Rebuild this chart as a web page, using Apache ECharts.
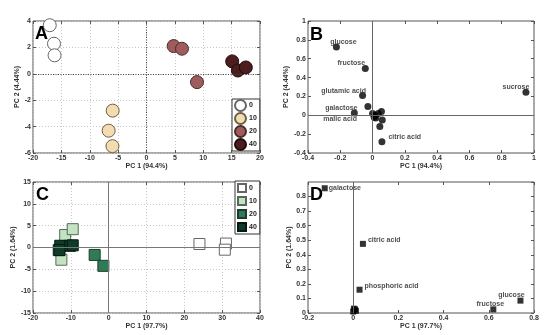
<!DOCTYPE html>
<html><head><meta charset="utf-8">
<script src="https://cdn.jsdelivr.net/npm/echarts@6/dist/echarts.min.js"></script>
<style>html,body{margin:0;padding:0;background:#fff}#c{width:550px;height:335px}</style>
</head><body><div id="c"></div>
<script>
// ---- data ----
const groups = ['0', '10', '20', '40'];
// Panel A: PCA scores (PC1 94.4%, PC2 4.44%)
const A_0  = [[-17.05, 3.68], [-16.3, 2.28], [-16.2, 1.40]];
const A_10 = [[-5.96, -2.79], [-6.67, -4.31], [-6.0, -5.48]];
const A_20 = [[4.78, 2.10], [6.25, 1.90], [8.9, -0.63]];
const A_40 = [[15.1, 0.94], [16.1, 0.25], [17.5, 0.48]];
// Panel B: loadings
const B_names  = ['glucose', 'fructose', 'glutamic acid', '', 'galactose', 'malic acid', '', '', '', '', '', '', '', 'citric acid', 'sucrose'];
const B_points = [[-0.224, 0.723], [-0.045, 0.496], [-0.062, 0.209], [-0.029, 0.092], [-0.113, 0.025],
  [0.0, 0.02], [0.01, -0.02], [0.02, -0.03], [0.035, 0.02], [0.055, 0.04], [0.06, -0.05], [0.045, -0.12], [0.015, 0.0],
  [0.058, -0.28], [0.95, 0.245]];
// Panel C: PCA scores (PC1 97.7%, PC2 1.64%)
const C_0  = [[24.0, 0.8], [31.0, 0.9], [30.7, -0.5]];
const C_10 = [[-11.5, 2.85], [-9.5, 4.2], [-12.5, -2.8]];
const C_20 = [[-3.7, -1.7], [-1.4, -4.2], [-13.2, -0.6]];
const C_40 = [[-12.8, 0.4], [-10.2, 0.4], [-9.5, 0.5], [-13.0, -0.6]];
// Panel D: loadings
const D_names  = ['galactose', 'citric acid', 'phosphoric acid', 'fructose', 'glucose', '', '', '', ''];
const D_points = [[-0.126, 0.857], [0.043, 0.475], [0.028, 0.16], [0.62, 0.025], [0.74, 0.085],
  [0.0, 0.01], [0.008, 0.025], [0.012, 0.015], [0.003, 0.03]];
// tick settings
const axA = {x: [-20, 20, 5], y: [-6, 4, 2]};
const axB = {x: [-0.4, 1, 0.2], y: [-0.4, 1, 0.2]};
const axC = {x: [-20, 40, 10], y: [-15, 15, 5]};
const axD = {x: [-0.2, 0.8, 0.2], y: [0, 0.9, 0.1]};
const names = {A: ['PC 1 (94.4%)', 'PC 2 (4.44%)'], C: ['PC 1 (97.7%)', 'PC 2 (1.64%)']};

// ---- styles ----
const FONT = 'Liberation Sans, Arial, sans-serif';
const colA = [['#ffffff', '#666'], ['#f3dcb1', '#6e5f45'], ['#a05c5c', '#4d2b2b'], ['#4b1d1e', '#220a0a']];
const colC = [['#ffffff', '#666'], ['#c3e3c3', '#566b56'], ['#2f7b58', '#1d3d2c'], ['#0f3b28', '#041a10']];
const labB = {
  'glucose': {position: 'top', distance: 0, offset: [7, 2]},
  'fructose': {position: 'top', distance: 0, offset: [-14, 2]},
  'glutamic acid': {position: 'top', distance: 0, offset: [-19, 2]},
  'galactose': {position: 'top', distance: 0, offset: [-13, 2]},
  'malic acid': {position: 'left', distance: 12, offset: [0, 6]},
  'citric acid': {position: 'right', distance: 3, offset: [0, -5]},
  'sucrose': {position: 'top', distance: 0, offset: [-10, 2]}
};
const labD = {
  'galactose': {position: 'right', distance: 1, offset: [0, 0]},
  'citric acid': {position: 'right', distance: 2, offset: [0, -4]},
  'phosphoric acid': {position: 'right', distance: 2, offset: [0, -4]},
  'fructose': {position: 'top', distance: 0, offset: [-3, 1]},
  'glucose': {position: 'top', distance: 0, offset: [-9, 1]}
};

const grids = [
  {left: 33, top: 21, width: 227, height: 132},
  {left: 308, top: 21, width: 226, height: 132},
  {left: 33, top: 182, width: 227, height: 131},
  {left: 308, top: 182, width: 226, height: 131}
].map(g => Object.assign(g, {show: true, borderColor: '#555', borderWidth: 1, containLabel: false}));

const tickStyle = {show: true, inside: true, length: 3, lineStyle: {color: '#555'}};
const noLine = {show: false, onZero: false};
function xAxis(i, ax, name, gap, gridLines) {
  return {
    type: 'value', gridIndex: i, position: 'bottom', min: ax[0], max: ax[1], interval: ax[2], name: name,
    nameLocation: 'middle', nameGap: gap,
    nameTextStyle: {fontSize: 7, fontWeight: 'bold', color: '#333', fontFamily: FONT},
    axisLine: noLine, axisTick: tickStyle,
    axisLabel: {fontSize: 7, fontWeight: 'bold', color: '#333', margin: 2, fontFamily: FONT,
      formatter: v => String(Math.round(v * 10) / 10)},
    splitLine: {show: gridLines, lineStyle: {type: [1, 2], color: '#c8c8c8'}}
  };
}
function yAxis(i, ax, name, gap, gridLines, hideMax) {
  return {
    type: 'value', gridIndex: i, position: 'left', min: ax[0], max: ax[1], interval: ax[2], name: name,
    nameLocation: 'middle', nameGap: gap,
    nameTextStyle: {fontSize: 7, fontWeight: 'bold', color: '#333', fontFamily: FONT},
    axisLine: noLine, axisTick: tickStyle,
    axisLabel: {fontSize: 7, fontWeight: 'bold', color: '#333', margin: 2, fontFamily: FONT, showMaxLabel: !hideMax,
      formatter: v => String(Math.round(v * 10) / 10)},
    splitLine: {show: gridLines, lineStyle: {type: [1, 2], color: '#c8c8c8'}}
  };
}
function mirror(i, ax, pos) {
  return {type: 'value', gridIndex: i, position: pos, min: ax[0], max: ax[1], interval: ax[2],
    axisLine: noLine, axisTick: tickStyle, axisLabel: {show: false}, splitLine: {show: false}};
}
function zeroLines(i, data, type, color) {
  return {
    type: 'scatter', xAxisIndex: i, yAxisIndex: i, data: [], silent: true, z: 1,
    markLine: {silent: true, symbol: 'none', animation: false, label: {show: false},
      lineStyle: {type: type, color: color, width: 1}, data: data}
  };
}
function groupSeries(prefix, i, arr, cols, symbol, size) {
  return arr.map((d, k) => ({
    name: prefix + groups[k], type: 'scatter', xAxisIndex: i, yAxisIndex: i, z: 3,
    symbol: symbol, symbolSize: size, data: d,
    itemStyle: {color: cols[k][0], borderColor: cols[k][1], borderWidth: 1, opacity: 1}
  }));
}
function loadSeries(i, pts, nms, labs, symbol, size) {
  return {
    type: 'scatter', xAxisIndex: i, yAxisIndex: i, z: 3, symbol: symbol, symbolSize: size,
    itemStyle: {color: '#000'},
    data: pts.map((p, k) => {
      const item = {value: p, name: nms[k]};
      if (nms[k]) {
        item.label = Object.assign({show: true, formatter: nms[k], fontSize: 7, fontWeight: 'bold',
          color: '#222', fontFamily: FONT}, labs[nms[k]]);
      }
      return item;
    })
  };
}
function letter(t, x, y) {
  return {type: 'text', left: x, top: y, z: 10,
    style: {text: t, fontSize: 18, fontWeight: 'bold', fill: '#000', fontFamily: FONT}};
}

const option = {
  animation: false,
  grid: grids,
  xAxis: [xAxis(0, axA.x, names.A[0], 7, true), xAxis(1, axB.x, names.A[0], 7, false),
          xAxis(2, axC.x, names.C[0], 8, true), xAxis(3, axD.x, names.C[0], 8, false),
          mirror(0, axA.x, 'top'), mirror(1, axB.x, 'top'), mirror(2, axC.x, 'top'), mirror(3, axD.x, 'top')],
  yAxis: [yAxis(0, axA.y, names.A[1], 6, true, false), yAxis(1, axB.y, names.A[1], 11, false, false),
          yAxis(2, axC.y, names.C[1], 7, true, false), yAxis(3, axD.y, names.C[1], 9, false, true),
          mirror(0, axA.y, 'right'), mirror(1, axB.y, 'right'), mirror(2, axC.y, 'right'), mirror(3, axD.y, 'right')],
  legend: [
    {orient: 'vertical', left: 232, top: 99, itemWidth: 11, itemHeight: 11, itemGap: 0, padding: [0, 3, 0, 2],
      borderColor: '#333', borderWidth: 1, backgroundColor: '#fff', icon: 'circle', selectedMode: false,
      data: groups.map(g => 'A' + g), formatter: n => n.slice(1),
      textStyle: {fontSize: 7, fontWeight: 'bold', color: '#222', fontFamily: FONT, padding: [0, 0, 0, -2]}},
    {orient: 'vertical', left: 235, top: 181, itemWidth: 8, itemHeight: 8, itemGap: 3, padding: [2, 3, 2, 2],
      borderColor: '#333', borderWidth: 1, backgroundColor: '#fff', icon: 'rect', selectedMode: false,
      data: groups.map(g => 'C' + g), formatter: n => n.slice(1),
      textStyle: {fontSize: 7, fontWeight: 'bold', color: '#222', fontFamily: FONT, padding: [0, 0, 0, -2]}}
  ],
  graphic: [letter('A', 35, 25), letter('B', 310, 26), letter('C', 36, 186), letter('D', 310, 186)],
  series: [
    zeroLines(0, [{xAxis: 0}, {yAxis: 0}], [1, 1.5], '#444'),
    zeroLines(1, [{xAxis: 0}, {yAxis: 0}], 'solid', '#666'),
    zeroLines(2, [{xAxis: 0}, {yAxis: 0}], 'solid', '#777'),
    zeroLines(3, [{xAxis: 0}], 'solid', '#666'),
    ...groupSeries('A', 0, [A_0, A_10, A_20, A_40], colA, 'circle', 13),
    loadSeries(1, B_points, B_names, labB, 'circle', 7),
    ...groupSeries('C', 2, [C_0, C_10, C_20, C_40], colC, 'rect', 11),
    loadSeries(3, D_points, D_names, labD, 'rect', 6)
  ]
};
const chart = echarts.init(document.getElementById('c'), null, {renderer: 'canvas'});
chart.setOption(option);
</script></body></html>
